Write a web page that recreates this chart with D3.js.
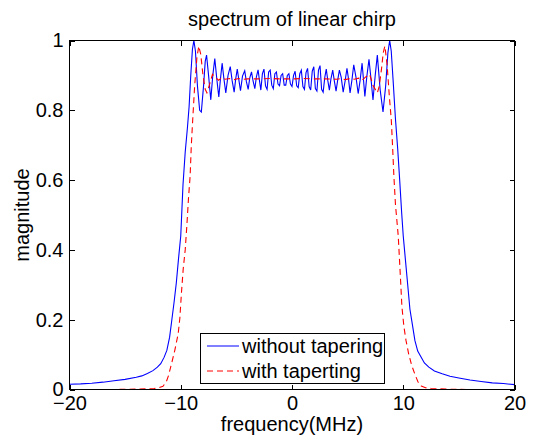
<!DOCTYPE html>
<html>
<head>
<meta charset="utf-8">
<script src="https://cdn.jsdelivr.net/npm/d3@7"></script>
<style>
  body { margin: 0; background: white; }
  svg text { font-family: "Liberation Sans", Arial, sans-serif; font-size: 20px; fill: black; }
</style>
</head>
<body>
<div id="chart"></div>
<script>
// data
var xTicks = [-20, -10, 0, 10, 20];
var yTicks = [0, 0.2, 0.4, 0.6, 0.8, 1];
var seriesNames = ['without tapering', 'with taperting'];

// without tapering (blue)
var freqBlue = [-20, -19, -18, -17, -16, -15, -14, -13.5, -13, -12.5, -12.1, -11.8, -11.5, -11.25, -11, -10.8, -10.6, -10.4, -10.2, -10,
  -9.8, -9.6, -9.4, -9.25, -9.1, -8.95, -8.82, -8.68, -8.5, -8.3, -8.15, -7.95, -7.8, -7.68, -7.5, -7.3, -7.12, -6.94, -6.76, -6.58,
  -6.43, -6.28, -6.12, -5.95, -5.75, -5.55, -5.38, -5.2, -5.06, -4.92, -4.78, -4.63, -4.45, -4.25, -4.1, -3.94, -3.8, -3.64, -3.5, -3.34,
  -3.2, -3.05, -2.92, -2.8, -2.66, -2.52, -2.38, -2.24, -2.1, -1.96, -1.82, -1.68, -1.54, -1.4, -1.26, -1.12, -0.98, -0.84, -0.7, -0.56,
  -0.42, -0.28, -0.14, 0, 0.14, 0.28, 0.42, 0.56, 0.7, 0.84, 0.98, 1.12, 1.26, 1.4, 1.54, 1.68, 1.82, 1.96, 2.1, 2.24,
  2.38, 2.52, 2.66, 2.8, 2.95, 3.08, 3.22, 3.36, 3.5, 3.66, 3.8, 3.96, 4.1, 4.26, 4.42, 4.6, 4.78, 4.94, 5.08, 5.22,
  5.38, 5.55, 5.75, 5.95, 6.12, 6.3, 6.42, 6.55, 6.72, 6.92, 7.1, 7.28, 7.48, 7.67, 7.92, 8.18, 8.42, 8.62, 8.78, 8.92,
  9.1, 9.3, 9.5, 9.68, 9.85, 10, 10.2, 10.4, 10.6, 10.85, 11.05, 11.3, 11.6, 11.9, 12.3, 12.8, 13.5, 14.2, 15, 16,
  17, 18, 19, 20];
var magBlue = [0.015, 0.016, 0.018, 0.021, 0.025, 0.029, 0.035, 0.039, 0.046, 0.054, 0.064, 0.074, 0.092, 0.112, 0.15, 0.2, 0.25, 0.305, 0.375, 0.44,
  0.585, 0.68, 0.75, 0.81, 0.9, 0.975, 1.0, 0.97, 0.87, 0.8, 0.795, 0.87, 0.94, 0.958, 0.9, 0.83, 0.9, 0.948, 0.89, 0.838,
  0.89, 0.935, 0.89, 0.85, 0.9, 0.925, 0.885, 0.852, 0.89, 0.918, 0.888, 0.856, 0.898, 0.913, 0.882, 0.86, 0.892, 0.91, 0.884, 0.862,
  0.896, 0.916, 0.884, 0.858, 0.905, 0.918, 0.87, 0.86, 0.91, 0.915, 0.872, 0.862, 0.905, 0.91, 0.875, 0.87, 0.9, 0.905, 0.872, 0.872,
  0.9, 0.905, 0.875, 0.868, 0.9, 0.912, 0.87, 0.865, 0.905, 0.915, 0.868, 0.86, 0.908, 0.92, 0.868, 0.858, 0.912, 0.925, 0.862, 0.855,
  0.915, 0.928, 0.86, 0.852, 0.895, 0.918, 0.885, 0.858, 0.89, 0.915, 0.885, 0.855, 0.885, 0.915, 0.895, 0.852, 0.885, 0.92, 0.89, 0.85,
  0.885, 0.93, 0.895, 0.848, 0.885, 0.935, 0.89, 0.84, 0.895, 0.946, 0.89, 0.83, 0.9, 0.958, 0.86, 0.795, 0.87, 0.965, 1.0, 0.97,
  0.88, 0.775, 0.69, 0.6, 0.51, 0.44, 0.37, 0.3, 0.23, 0.18, 0.14, 0.11, 0.093, 0.076, 0.064, 0.053, 0.045, 0.038, 0.033, 0.027,
  0.023, 0.019, 0.017, 0.014];

// with tapering (red dashed)
var freqRed = [-20, -16, -14, -13, -12.4, -12, -11.6, -11.3, -11.1, -10.82, -10.53, -10.23, -10.08, -9.93, -9.78, -9.6, -9.45, -9.3, -9.16, -9.05,
  -8.93, -8.75, -8.55, -8.38, -8.2, -8, -7.8, -7.65, -7.4, -7.15, -6.9, -6.6, -6.3, -6, -5.6, -5.2, -4.8, -4.4, -4, -3,
  -2, -1, 0, 1, 2, 3, 4, 4.4, 4.8, 5.2, 5.6, 6, 6.3, 6.6, 6.98, 7.3, 7.67, 7.85, 8.05, 8.2,
  8.35, 8.55, 8.75, 8.93, 9.05, 9.16, 9.3, 9.55, 9.7, 9.88, 10.06, 10.25, 10.48, 10.75, 11.02, 11.32, 11.62, 12, 12.5, 13,
  14, 16, 20];
var magRed = [0, 0, 0.001, 0.002, 0.003, 0.005, 0.009, 0.022, 0.04, 0.075, 0.113, 0.16, 0.205, 0.28, 0.345, 0.4, 0.47, 0.55, 0.61, 0.7,
  0.77, 0.87, 0.95, 0.984, 0.96, 0.9, 0.86, 0.85, 0.875, 0.903, 0.895, 0.886, 0.894, 0.889, 0.891, 0.888, 0.891, 0.889, 0.89, 0.89,
  0.891, 0.89, 0.89, 0.891, 0.89, 0.89, 0.889, 0.891, 0.888, 0.891, 0.889, 0.892, 0.886, 0.895, 0.903, 0.87, 0.85, 0.87, 0.92, 0.965,
  0.984, 0.93, 0.84, 0.77, 0.69, 0.61, 0.53, 0.44, 0.35, 0.237, 0.18, 0.14, 0.103, 0.07, 0.046, 0.022, 0.01, 0.005, 0.003, 0.002,
  0.001, 0, 0];

// storlek
var width = 534;
var height = 435;
var plotLeft = 69.5, plotRight = 514.5, plotTop = 40.5, plotBottom = 389.5;

var svg = d3.select('#chart')
    .append('svg')
    .attr('width', width)
    .attr('height', height)
    .style('background', 'white');

var x = d3.scaleLinear().domain([-20, 20]).range([plotLeft, plotRight]);
var y = d3.scaleLinear().domain([0, 1]).range([plotBottom, plotTop]);

// data lines
var line = d3.line()
    .x(function (d) { return x(d[0]); })
    .y(function (d) { return y(d[1]); });

var blue = d3.zip(freqBlue, magBlue);
var red = d3.zip(freqRed, magRed);

svg.append('path')
    .datum(blue)
    .attr('d', line)
    .attr('fill', 'none')
    .attr('stroke', '#0000ff')
    .attr('stroke-width', 1.1);

svg.append('path')
    .datum(red)
    .attr('d', line)
    .attr('fill', 'none')
    .attr('stroke', '#ff0000')
    .attr('stroke-width', 1.1)
    .attr('stroke-dasharray', '6,4');

// axes, ticks inward on all four sides
svg.append('g')
    .attr('transform', 'translate(0,' + plotBottom + ')')
    .call(d3.axisBottom(x).tickValues(xTicks).tickSizeInner(-5).tickSizeOuter(0).tickPadding(6)
        .tickFormat(function (d) { return d < 0 ? '\u2212' + Math.abs(d) : d; }));
svg.append('g')
    .attr('transform', 'translate(0,' + plotTop + ')')
    .call(d3.axisTop(x).tickValues(xTicks).tickSizeInner(-5).tickSizeOuter(0).tickFormat(''));
svg.append('g')
    .attr('transform', 'translate(' + plotLeft + ',0)')
    .call(d3.axisLeft(y).tickValues(yTicks).tickSizeInner(-5).tickSizeOuter(0).tickPadding(6)
        .tickFormat(function (d) { return d; }));
svg.append('g')
    .attr('transform', 'translate(' + plotRight + ',0)')
    .call(d3.axisRight(y).tickValues(yTicks).tickSizeInner(-5).tickSizeOuter(0).tickFormat(''));

svg.selectAll('.domain').remove();
svg.selectAll('.tick line').attr('stroke', 'black').attr('shape-rendering', 'crispEdges');
svg.selectAll('.tick text')
    .style('font-size', '20px')
    .style('font-family', '"Liberation Sans", Arial, sans-serif')
    .attr('fill', 'black');

// box
svg.append('rect')
    .attr('x', plotLeft)
    .attr('y', plotTop)
    .attr('width', plotRight - plotLeft)
    .attr('height', plotBottom - plotTop)
    .attr('fill', 'none')
    .attr('stroke', 'black')
    .attr('shape-rendering', 'crispEdges');

// texts
svg.append('text')
    .attr('x', (plotLeft + plotRight) / 2)
    .attr('y', 26)
    .attr('text-anchor', 'middle')
    .text('spectrum of linear chirp');

svg.append('text')
    .attr('x', (plotLeft + plotRight) / 2)
    .attr('y', 431)
    .attr('text-anchor', 'middle')
    .text('frequency(MHz)');

svg.append('text')
    .attr('transform', 'translate(29,' + (plotTop + plotBottom) / 2 + ') rotate(-90)')
    .attr('text-anchor', 'middle')
    .text('magnitude');

// legend
var legend = svg.append('g');
legend.append('rect')
    .attr('x', 200.5)
    .attr('y', 333.5)
    .attr('width', 184)
    .attr('height', 50)
    .attr('fill', 'white')
    .attr('stroke', 'black')
    .attr('shape-rendering', 'crispEdges');

var legendColors = ['#0000ff', '#ff0000'];
var legendDash = [null, '6,4'];
seriesNames.forEach(function (name, i) {
    var ly = 346 + i * 25;
    legend.append('line')
        .attr('x1', 207).attr('x2', 239)
        .attr('y1', ly).attr('y2', ly)
        .attr('stroke', legendColors[i])
        .attr('stroke-dasharray', legendDash[i]);
    legend.append('text')
        .attr('x', 242)
        .attr('y', ly + 7)
        .text(name);
});
</script>
</body>
</html>
